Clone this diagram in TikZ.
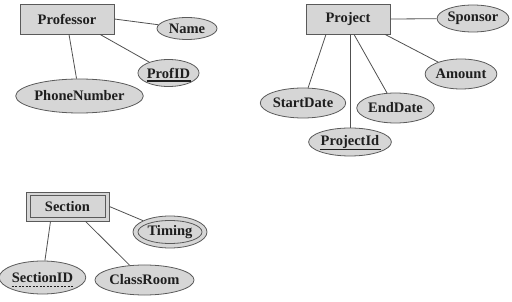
\documentclass[tikz,border=0pt]{standalone}
\usepackage{fontspec}
\setmainfont{Liberation Serif}
\usetikzlibrary{shapes.geometric}
\definecolor{shapefill}{RGB}{214,214,214}
\definecolor{shapeline}{RGB}{90,90,90}
\definecolor{linkcol}{RGB}{80,80,80}
\definecolor{txt}{RGB}{30,30,30}
\tikzset{
  entity/.style={rectangle,draw=shapeline,fill=shapefill,line width=0.8pt,inner sep=0pt,
     font=\fontsize{14.5}{16}\selectfont\bfseries,text=txt},
  attr/.style={ellipse,draw=shapeline,fill=shapefill,line width=0.8pt,inner sep=0pt,
     font=\fontsize{14.5}{16}\selectfont\bfseries,text=txt},
  link/.style={draw=linkcol,line width=0.8pt},
  keyline/.style={draw=txt,line width=1.3pt},
  partkey/.style={draw=txt,line width=0.7pt,dash pattern=on 2pt off 1.5pt}
}
\begin{document}
\begin{tikzpicture}[x=1pt,y=-1pt]
\useasboundingbox (0,0) rectangle (512,302);
% Professor
\node[entity,minimum width=94pt,minimum height=30pt] (prof) at (67,19) {Professor};
\node[attr,minimum width=60pt,minimum height=22pt] (name) at (187,28.5) {Name};
\node[attr,minimum width=61pt,minimum height=27pt] (pid) at (168.5,73) {ProfID};
\node[attr,minimum width=117pt,minimum height=34pt] (phone) at (79.5,96) {PhoneNumber};
\draw[keyline] ([xshift=-22pt,yshift=-3pt]pid.base) -- ([xshift=22pt,yshift=-3pt]pid.base);
\draw[link] (prof.east) -- (name);
\draw[link] ([xshift=33pt]prof.south) -- (pid);
\draw[link] ([xshift=2pt]prof.south) -- (phone);
% Project
\node[entity,minimum width=84pt,minimum height=30pt] (proj) at (348,19) {Project};
\node[attr,minimum width=60pt,minimum height=27pt] (spon) at (473,18.5) {Sponsor};
\node[attr,minimum width=64pt,minimum height=30pt] (amt) at (461,74) {Amount};
\node[attr,minimum width=66pt,minimum height=30pt] (sd) at (303,103) {StartDate};
\node[attr,minimum width=63pt,minimum height=30pt] (ed) at (395.5,108) {EndDate};
\node[attr,minimum width=68pt,minimum height=28pt] (pjid) at (350,142) {ProjectId};
\draw[keyline] ([xshift=-30pt,yshift=-4pt]pjid.base) -- ([xshift=31pt,yshift=-4pt]pjid.base);
\draw[link] (proj.east) -- (spon);
\draw[link] ([xshift=37pt]proj.south) -- (amt);
\draw[link] ([xshift=-22pt]proj.south) -- (sd);
\draw[link] ([xshift=2pt]proj.south) -- (pjid);
\draw[link] ([xshift=6pt]proj.south) -- (ed);
% Section (weak entity)
\node[entity,minimum width=83pt,minimum height=29pt] (sec) at (67.5,206.5) {Section};
\draw[draw=shapeline,line width=0.8pt] ([xshift=4.5pt,yshift=-4pt]sec.north west) rectangle ([xshift=-4.5pt,yshift=4pt]sec.south east);
\node[attr,minimum width=74pt,minimum height=32pt] (tim) at (170,232) {};
\draw[draw=shapeline,line width=0.8pt] (tim.center) ellipse (32pt and 11.5pt);
\node[font=\fontsize{14.5}{16}\selectfont\bfseries,text=txt,inner sep=0pt] (timtext) at (tim.center) {Timing};
\node[attr,minimum width=75pt,minimum height=33pt] (sid) at (42.5,277.5) {SectionID};
\node[attr,minimum width=83pt,minimum height=30pt] (cr) at (144.5,280) {ClassRoom};
\draw[partkey] ([xshift=-31pt,yshift=-3.5pt]sid.base) -- ([xshift=31pt,yshift=-3.5pt]sid.base);
\draw[link] (sec.east) -- (tim);
\draw[link] ([xshift=-17pt]sec.south) -- (sid);
\draw[link] ([xshift=18pt]sec.south) -- (cr);
\end{tikzpicture}
\end{document}
